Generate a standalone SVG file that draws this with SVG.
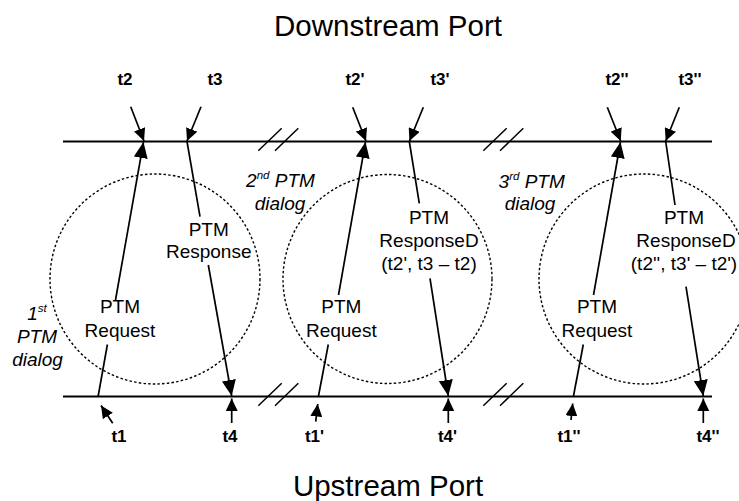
<svg xmlns="http://www.w3.org/2000/svg" width="739" height="501" viewBox="0 0 739 501">
<style>
text{font-family:"Liberation Sans",Arial,sans-serif;fill:#000}
.port{font-size:29.5px;text-anchor:middle}
.lbl{font-size:19px;text-anchor:middle}
.dlg{font-size:19px;font-style:italic;text-anchor:middle}
.t{font-size:17px;font-weight:bold;text-anchor:middle}
.axis{stroke:#000;stroke-width:2;fill:none}
.brk{stroke:#000;stroke-width:1.5;fill:none}
.msg{stroke:#000;stroke-width:1.7;fill:none}
.ts{stroke:#000;stroke-width:1.7;fill:none}
.circ{stroke:#000;stroke-width:1.4;fill:none;stroke-dasharray:2.5 2.2}
</style>
<defs>
<marker id="big" markerUnits="userSpaceOnUse" markerWidth="17" markerHeight="14" refX="16" refY="7" orient="auto">
<path d="M0,0 L16,7 L0,14 z" fill="#000"/>
</marker>
<marker id="small" markerUnits="userSpaceOnUse" markerWidth="13" markerHeight="12" refX="12.5" refY="6" orient="auto">
<path d="M0,0 L12.5,6 L0,12 z" fill="#000"/>
</marker>
</defs>

<g id="ports">
<text class="port" x="388" y="36">Downstream Port</text>
<text class="port" x="388" y="495.5">Upstream Port</text>
</g>

<g id="timelines">
<line class="axis" x1="63" y1="141.5" x2="712" y2="141.5"/>
<line class="axis" x1="63" y1="396.5" x2="712" y2="396.5"/>
<line class="brk" x1="258.3" y1="150.7" x2="281.7" y2="128.3"/>
<line class="brk" x1="275" y1="150.7" x2="298.3" y2="128.3"/>
<line class="brk" x1="483.3" y1="150.7" x2="506.7" y2="128.3"/>
<line class="brk" x1="500" y1="150.7" x2="523.3" y2="128.3"/>
<line class="brk" x1="258.3" y1="405.7" x2="281.7" y2="383.3"/>
<line class="brk" x1="275" y1="405.7" x2="298.3" y2="383.3"/>
<line class="brk" x1="483.3" y1="405.7" x2="506.7" y2="383.3"/>
<line class="brk" x1="500" y1="405.7" x2="523.3" y2="383.3"/>
</g>

<g id="dialog1">
<circle class="circ" cx="155" cy="279" r="105"/>
<text class="dlg" x="37" y="320">1<tspan font-size="11.5" dy="-8">st</tspan></text>
<text class="dlg" x="37" y="343.3">PTM</text>
<text class="dlg" x="37.5" y="365.5">dialog</text>
<text class="lbl" x="120" y="313.3">PTM</text>
<text class="lbl" x="120" y="336.7">Request</text>
<text class="lbl" x="208.7" y="236">PTM</text>
<text class="lbl" x="208.7" y="258.3">Response</text>
</g>

<g id="dialog2">
<circle class="circ" cx="387.5" cy="279" r="104.5"/>
<text class="dlg" x="280.5" y="187.3">2<tspan font-size="11.5" dy="-8">nd</tspan><tspan dy="8"> PTM</tspan></text>
<text class="dlg" x="280" y="210">dialog</text>
<text class="lbl" x="341.3" y="312.7">PTM</text>
<text class="lbl" x="341.3" y="336.7">Request</text>
<text class="lbl" x="429" y="223.5">PTM</text>
<text class="lbl" x="429" y="246.7">ResponseD</text>
<text class="lbl" x="429" y="270">(t2', t3 – t2)</text>
</g>

<g id="dialog3">
<circle class="circ" cx="644" cy="279" r="105"/>
<text class="dlg" x="531.7" y="188">3<tspan font-size="11.5" dy="-8">rd</tspan><tspan dy="8"> PTM</tspan></text>
<text class="dlg" x="530" y="210">dialog</text>
<text class="lbl" x="597" y="312.7">PTM</text>
<text class="lbl" x="597" y="336.7">Request</text>
<text class="lbl" x="684" y="223.5">PTM</text>
<text class="lbl" x="686" y="246.7">ResponseD</text>
<text class="lbl" x="684" y="270">(t2'', t3' – t2')</text>
</g>

<g id="timestamps">
<text class="t" x="125" y="85">t2</text>
<text class="t" x="215" y="85">t3</text>
<text class="t" x="355" y="85">t2'</text>
<text class="t" x="440" y="85">t3'</text>
<text class="t" x="617" y="85">t2''</text>
<text class="t" x="690" y="85">t3''</text>
<text class="t" x="119" y="441.7">t1</text>
<text class="t" x="230" y="441.7">t4</text>
<text class="t" x="314.5" y="441.7">t1'</text>
<text class="t" x="447.5" y="441.7">t4'</text>
<text class="t" x="569" y="441.7">t1''</text>
<text class="t" x="708" y="441.7">t4''</text>
</g>

<g id="connectors">
<!-- requests -->
<line class="msg" x1="98" y1="397" x2="107.4" y2="344.5"/>
<line class="msg" x1="115.5" y1="300" x2="143.5" y2="142" marker-end="url(#big)"/>
<line class="msg" x1="318.3" y1="397" x2="328.3" y2="344.5"/>
<line class="msg" x1="338.5" y1="295" x2="365.5" y2="142" marker-end="url(#big)"/>
<line class="msg" x1="573.3" y1="397" x2="583.3" y2="344.5"/>
<line class="msg" x1="593.5" y1="295" x2="620.5" y2="142" marker-end="url(#big)"/>
<!-- responses -->
<line class="msg" x1="187" y1="141.5" x2="200" y2="216.7"/>
<line class="msg" x1="208.3" y1="265" x2="231.7" y2="396" marker-end="url(#big)"/>
<line class="msg" x1="409.3" y1="141.5" x2="419.3" y2="203.3"/>
<line class="msg" x1="430" y1="278.3" x2="448.3" y2="396" marker-end="url(#big)"/>
<line class="msg" x1="665.7" y1="141.5" x2="675" y2="205"/>
<line class="msg" x1="686" y1="286.7" x2="703.3" y2="396" marker-end="url(#big)"/>
<!-- timestamp pointers top -->
<line class="ts" x1="130.7" y1="106.7" x2="144" y2="141" marker-end="url(#small)"/>
<line class="ts" x1="201" y1="106.7" x2="187" y2="141" marker-end="url(#small)"/>
<line class="ts" x1="352.7" y1="107.3" x2="366" y2="141" marker-end="url(#small)"/>
<line class="ts" x1="423.3" y1="107.3" x2="409.5" y2="141" marker-end="url(#small)"/>
<line class="ts" x1="607.3" y1="107.3" x2="620.7" y2="141" marker-end="url(#small)"/>
<line class="ts" x1="679.3" y1="107.3" x2="665.7" y2="141" marker-end="url(#small)"/>
<!-- timestamp pointers bottom -->
<line class="ts" x1="112.7" y1="423.3" x2="101" y2="405.5" marker-end="url(#small)"/>
<line class="ts" x1="231.7" y1="423" x2="231.7" y2="398.5" marker-end="url(#small)"/>
<line class="ts" x1="315.7" y1="421.7" x2="317.7" y2="404" marker-end="url(#small)"/>
<line class="ts" x1="448.3" y1="423" x2="448.3" y2="398.5" marker-end="url(#small)"/>
<line class="ts" x1="571" y1="420" x2="572.7" y2="403.5" marker-end="url(#small)"/>
<line class="ts" x1="703.3" y1="423" x2="703.3" y2="398.5" marker-end="url(#small)"/>
</g>
</svg>
